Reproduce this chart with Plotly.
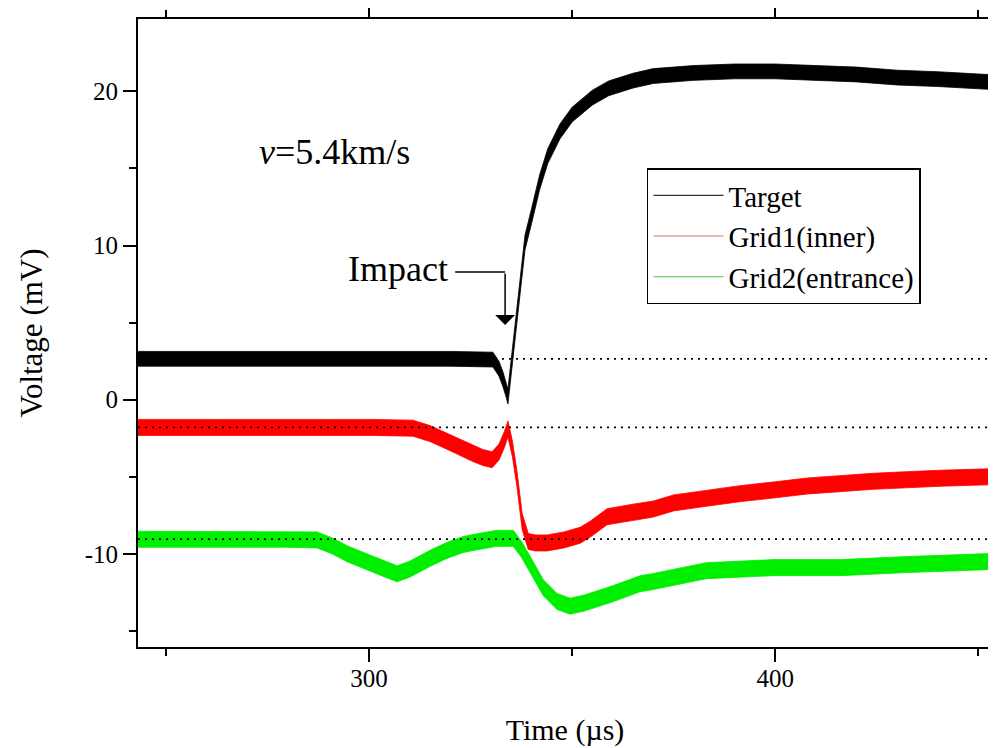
import plotly.graph_objects as go

# time (us) / voltage (mV) (band centre)
t_target = [243, 260, 280, 300, 320, 330.5, 332, 333, 333.8, 334.2, 335.2, 336.3, 337.3,
            338.4, 340, 342, 344, 347, 350, 355, 359, 365, 370, 380, 390, 400, 410, 420,
            430, 440, 453.5]
v_target = [2.65, 2.65, 2.65, 2.65, 2.65, 2.6, 2.0, 1.3, 0.6, 0.2, 2.6, 5.2, 7.6,
            10.2, 11.9, 14.1, 15.8, 17.4, 18.5, 19.6, 20.2, 20.7, 21.0, 21.2, 21.3, 21.3, 21.2, 21.1,
            20.9, 20.8, 20.6]

t_grid1 = [243, 260, 280, 300, 310.8, 315, 319.2, 322.5, 325.6, 328, 330.3, 332, 333.3,
           334.2, 335.3, 336.4, 337.7, 339.2, 341, 343.8, 348, 352, 354.5, 358.6, 365,
           370, 375, 383, 391.4, 400, 408, 416, 424, 432, 440.6, 453.5]
v_grid1 = [-1.8, -1.8, -1.8, -1.8, -1.85, -2.2, -2.7, -3.1, -3.5, -3.75, -3.9, -3.4, -2.6,
           -1.9, -3.2, -5.1, -7.9, -9.2, -9.3, -9.3, -9.1, -8.8, -8.4, -7.6, -7.3,
           -7.1, -6.7, -6.4, -6.1, -5.85, -5.6, -5.45, -5.3, -5.2, -5.1, -5.0]

t_grid2 = [243, 260, 280, 287.2, 291, 294.6, 300.2, 304, 306.9, 310, 315, 319, 323.2, 327,
           331.5, 335.5, 337.5, 339.7, 342.9, 346.3, 349.5, 353, 360, 366.7, 370, 383,
           399.5, 416, 432.5, 453.5]
v_grid2 = [-9.06, -9.06, -9.06, -9.1, -9.5, -10.0, -10.6, -11.0, -11.3, -11.0, -10.3, -9.8,
           -9.4, -9.2, -9.0, -9.0, -9.7, -10.7, -12.2, -13.1, -13.4, -13.2, -12.6, -11.95,
           -11.8, -11.1, -10.9, -10.9, -10.7, -10.5]

names = ["Target", "Grid1(inner)", "Grid2(entrance)"]
colors = ["#000000", "#ff0000", "#00ee00"]
legend_colors = ["#333333", "#e07070", "#70d070"]
noise = [0.48, 0.52, 0.52]        # half height of the noise band, mV
baselines = [2.65, -1.8, -9.05]   # dotted reference levels

x_ticks = [300, 400]
x_minor = [250, 350, 450]
y_ticks = [-10, 0, 10, 20]
y_ticklabels = ["-10", "0", "10", "20"]
y_minor = [-15, -5, 5, 15]

series = [(t_target, v_target), (t_grid1, v_grid1), (t_grid2, v_grid2)]

fig = go.Figure()

for (t, v), c, n in zip(series, colors, noise):
    upper = [a + n for a in v]
    lower = [a - n for a in v]
    fig.add_trace(go.Scatter(x=t + t[::-1], y=upper + lower[::-1], fill="toself",
                             fillcolor=c, line=dict(color=c, width=0.8),
                             mode="lines", showlegend=False, hoverinfo="skip"))

for name, c in zip(names, legend_colors):
    fig.add_trace(go.Scatter(x=[None], y=[None], mode="lines", name=name,
                             line=dict(color=c, width=1.2)))

for b in baselines:
    fig.add_shape(type="line", xref="x domain", yref="y", x0=0, x1=1, y0=b, y1=b,
                  line=dict(color="black", width=1.8, dash="2px,5px"), layer="above")

# Impact marker
fig.add_shape(type="line", x0=321.2, x1=333.5, y0=8.28, y1=8.28,
              line=dict(color="black", width=1.5))
fig.add_annotation(x=333.5, y=4.85, ax=333.5, ay=8.28, axref="x", ayref="y",
                   text="", showarrow=True, arrowhead=1, arrowsize=2.2, arrowwidth=1.5,
                   arrowcolor="black")
fig.add_annotation(x=320, y=8.5, text="Impact", showarrow=False, xanchor="right",
                   yanchor="middle", font=dict(size=36))
fig.add_annotation(x=272.4, y=16.1, text="<i>v</i>=5.4km/s", showarrow=False,
                   xanchor="left", yanchor="middle", font=dict(size=36))

# page body adds an 8px offset, so the figure is 8px smaller than the window
fig.update_layout(
    width=988, height=740,
    margin=dict(l=130, r=4, t=11, b=101),
    plot_bgcolor="white", paper_bgcolor="white",
    font=dict(family="Liberation Serif", color="black", size=25),
    legend=dict(x=0.596, y=0.762, xanchor="left", yanchor="top",
                bordercolor="black", borderwidth=1.5, bgcolor="white",
                font=dict(size=29), itemwidth=70, tracegroupgap=0),
)
fig.update_xaxes(range=[243.1, 453.4], tickmode="array", tickvals=x_ticks,
                 ticks="outside", ticklen=13, tickwidth=2, tickcolor="black",
                 minor=dict(tickmode="array", tickvals=x_minor, ticks="outside",
                            ticklen=7, tickwidth=2, tickcolor="black"),
                 showline=True, linewidth=2, linecolor="black", mirror="allticks",
                 showgrid=False, zeroline=False, automargin=False, ticklabelstandoff=-5,
                 title=dict(text="Time (\u00b5s)", font=dict(size=30), standoff=28))
fig.update_yaxes(range=[-16.05, 24.7], tickmode="array", tickvals=y_ticks,
                 ticktext=y_ticklabels,
                 ticks="outside", ticklen=13, tickwidth=2, tickcolor="black",
                 minor=dict(tickmode="array", tickvals=y_minor, ticks="outside",
                            ticklen=7, tickwidth=2, tickcolor="black"),
                 showline=True, linewidth=2, linecolor="black", mirror=True,
                 showgrid=False, zeroline=False, automargin=False,
                 title=dict(text="Voltage (mV)", font=dict(size=31), standoff=33))

fig.write_html("out.html")
